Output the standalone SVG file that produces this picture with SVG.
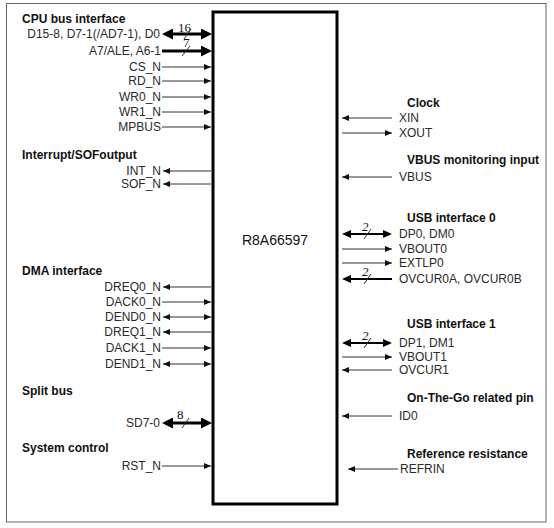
<svg xmlns="http://www.w3.org/2000/svg" width="554" height="528" viewBox="0 0 554 528">
<defs>
<style>
.t{font-family:"Liberation Sans",Arial,sans-serif;font-size:12px;fill:#2a2a2a}
.n{font-family:"Liberation Serif","Times New Roman",serif;font-size:13px;fill:#111}
.i{font-style:italic}
.h{font-family:"Liberation Sans",Arial,sans-serif;font-size:12px;font-weight:bold;fill:#111}
.r{text-anchor:end}
.s{stroke:#333;stroke-width:1;fill:none}
.b{stroke:#000;stroke-width:3;fill:none}
.m{stroke:#000;stroke-width:2;fill:none}
.a{marker-end:url(#ta)}
.aa{marker-start:url(#ta);marker-end:url(#ta)}
.ba{marker-end:url(#tb)}
.bb{marker-start:url(#tb);marker-end:url(#tb)}
.ma{marker-end:url(#tm)}
.mm{marker-start:url(#tm);marker-end:url(#tm)}
</style>
<marker id="ta" markerUnits="userSpaceOnUse" markerWidth="7" markerHeight="6" refX="7" refY="3" orient="auto-start-reverse"><path d="M0,0 L7,3 L0,6 z" fill="#111"/></marker>
<marker id="tb" markerUnits="userSpaceOnUse" markerWidth="11" markerHeight="11" refX="4" refY="5.5" orient="auto-start-reverse"><path d="M0,0 L11,5.5 L0,11 z" fill="#000"/></marker>
<marker id="tm" markerUnits="userSpaceOnUse" markerWidth="9" markerHeight="8" refX="4" refY="4" orient="auto-start-reverse"><path d="M0,0 L9,4 L0,8 z" fill="#000"/></marker>
</defs>
<rect x="6.5" y="3.5" width="539.5" height="518.5" fill="#fff" stroke="#666" stroke-width="1"/>

<g id="chip">
<rect x="213" y="12" width="124" height="492" fill="#fff" stroke="#000" stroke-width="3"/>
<text x="275" y="245" text-anchor="middle" style="font-family:'Liberation Sans',Arial,sans-serif;font-size:14px;fill:#111">R8A66597</text>
</g>

<g id="headings">
<text class="h" x="22" y="23">CPU bus interface</text>
<text class="h" x="22" y="159">Interrupt/SOFoutput</text>
<text class="h" x="22" y="275">DMA interface</text>
<text class="h" x="22" y="395">Split bus</text>
<text class="h" x="22" y="452">System control</text>
<text class="h" x="407" y="107">Clock</text>
<text class="h" x="407" y="164">VBUS monitoring input</text>
<text class="h" x="407" y="222">USB interface 0</text>
<text class="h" x="407" y="328">USB interface 1</text>
<text class="h" x="407" y="402">On-The-Go related pin</text>
<text class="h" x="407" y="458">Reference resistance</text>
</g>

<g id="labels">
<text class="t r" x="160" y="38">D15-8, D7-1(/AD7-1), D0</text>
<text class="t r" x="161" y="55">A7/ALE, A6-1</text>
<text class="t r" x="161" y="71">CS_N</text>
<text class="t r" x="161" y="85">RD_N</text>
<text class="t r" x="161" y="101">WR0_N</text>
<text class="t r" x="161" y="116">WR1_N</text>
<text class="t r" x="161" y="131">MPBUS</text>
<text class="t r" x="161" y="175">INT_N</text>
<text class="t r" x="161" y="188">SOF_N</text>
<text class="t r" x="161" y="291">DREQ0_N</text>
<text class="t r" x="161" y="306">DACK0_N</text>
<text class="t r" x="161" y="321">DEND0_N</text>
<text class="t r" x="161" y="336">DREQ1_N</text>
<text class="t r" x="161" y="352">DACK1_N</text>
<text class="t r" x="161" y="368">DEND1_N</text>
<text class="t r" x="160" y="427">SD7-0</text>
<text class="t r" x="161" y="470">RST_N</text>
<text class="t" x="399" y="122">XIN</text>
<text class="t" x="399" y="137">XOUT</text>
<text class="t" x="399" y="181">VBUS</text>
<text class="t" x="399" y="238">DP0, DM0</text>
<text class="t" x="399" y="253">VBOUT0</text>
<text class="t" x="399" y="267">EXTLP0</text>
<text class="t" x="399" y="283">OVCUR0A, OVCUR0B</text>
<text class="t" x="399" y="347">DP1, DM1</text>
<text class="t" x="399" y="361">VBOUT1</text>
<text class="t" x="399" y="374">OVCUR1</text>
<text class="t" x="399" y="420">ID0</text>
<text class="t" x="400" y="473">REFRIN</text>
<text class="n" x="178" y="32">16</text>
<text class="n" x="183" y="47">7</text>
<text class="n" x="177" y="419">8</text>
<text class="n i" x="362" y="231">2</text>
<text class="n i" x="362" y="276">2</text>
<text class="n i" x="362" y="340">2</text>
</g>

<g id="connectors">
<line class="b bb" x1="169" y1="34" x2="205" y2="34"/>
<line class="s" x1="184" y1="39" x2="191" y2="29"/>
<line class="b ba" x1="162" y1="51" x2="205" y2="51"/>
<line class="s" x1="182" y1="56" x2="190" y2="46"/>
<line class="s a" x1="162" y1="67" x2="211" y2="67"/>
<line class="s a" x1="162" y1="81" x2="211" y2="81"/>
<line class="s a" x1="162" y1="97" x2="211" y2="97"/>
<line class="s a" x1="162" y1="112" x2="211" y2="112"/>
<line class="s a" x1="162" y1="127" x2="211" y2="127"/>
<line class="s a" x1="211" y1="171" x2="163" y2="171"/>
<line class="s a" x1="211" y1="184" x2="163" y2="184"/>
<line class="s a" x1="211" y1="287" x2="163" y2="287"/>
<line class="s a" x1="162" y1="302" x2="211" y2="302"/>
<line class="s aa" x1="163" y1="317" x2="211" y2="317"/>
<line class="s a" x1="211" y1="332" x2="163" y2="332"/>
<line class="s a" x1="162" y1="348" x2="211" y2="348"/>
<line class="s aa" x1="163" y1="364" x2="211" y2="364"/>
<line class="b bb" x1="169" y1="423" x2="205" y2="423"/>
<line class="s" x1="182" y1="428" x2="189" y2="418"/>
<line class="s a" x1="162" y1="466" x2="211" y2="466"/>

<line class="s a" x1="392" y1="118" x2="342" y2="118"/>
<line class="s a" x1="342" y1="133" x2="392" y2="133"/>
<line class="s a" x1="392" y1="177" x2="342" y2="177"/>
<line class="m mm" x1="347" y1="234" x2="387" y2="234"/>
<line class="s" x1="364" y1="239" x2="371" y2="229"/>
<line class="s a" x1="342" y1="249" x2="392" y2="249"/>
<line class="s a" x1="342" y1="263" x2="392" y2="263"/>
<line class="m ma" x1="392" y1="279" x2="347" y2="279"/>
<line class="s" x1="364" y1="284" x2="371" y2="274"/>
<line class="m mm" x1="347" y1="343" x2="387" y2="343"/>
<line class="s" x1="364" y1="348" x2="371" y2="338"/>
<line class="s a" x1="342" y1="357" x2="392" y2="357"/>
<line class="s a" x1="392" y1="370" x2="342" y2="370"/>
<line class="s a" x1="392" y1="416" x2="342" y2="416"/>
<line class="s a" x1="398" y1="469" x2="348" y2="469"/>
</g>
</svg>
